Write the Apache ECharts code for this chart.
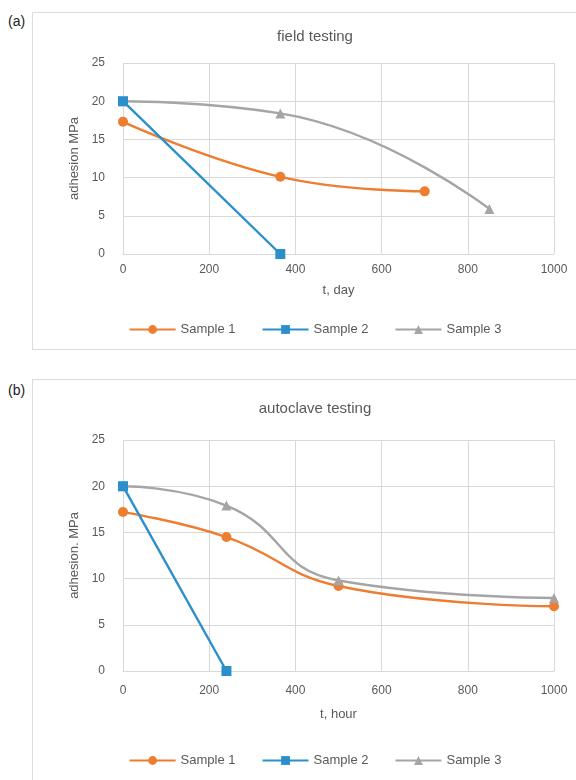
<!DOCTYPE html>
<html>
<head>
<meta charset="utf-8">
<script src="https://cdn.jsdelivr.net/npm/echarts@6/dist/echarts.min.js"></script>
<style>
  html, body { margin: 0; padding: 0; width: 576px; height: 780px; overflow: hidden; background: #fff; }
  .frame { position: absolute; border: 1.5px solid #dcdcdc; box-sizing: border-box; }
  .lbl { position: absolute; font-family: "Liberation Sans", Arial, sans-serif; font-size: 14px; color: #222; }
</style>
</head>
<body>
<div class="lbl" style="left:8px; top:13px;">(a)</div>
<div class="lbl" style="left:8px; top:382px;">(b)</div>
<div id="chartA" class="frame" style="left:32px; top:12px; width:566px; height:338px;"></div>
<div id="chartB" class="frame" style="left:32px; top:379px; width:566px; height:420px;"></div>
<script>
// ---- Data ----
const seriesNames = ['Sample 1', 'Sample 2', 'Sample 3'];
const xTicksA = [0, 200, 400, 600, 800, 1000];
const yTicks = [0, 5, 10, 15, 20, 25];

// (a) field testing, t in days
const fieldS1x = [0, 365, 700];
const fieldS1y = [17.3, 10.1, 8.2];
const fieldS2x = [0, 365];
const fieldS2y = [20.0, 0.0];
const fieldS3x = [0, 365, 850];
const fieldS3y = [20.0, 18.4, 5.9];

// (b) autoclave testing, t in hours
const autoS1x = [0, 240, 500, 1000];
const autoS1y = [17.2, 14.5, 9.2, 7.0];
const autoS2x = [0, 240];
const autoS2y = [20.0, 0.0];
const autoS3x = [0, 240, 500, 1000];
const autoS3y = [20.0, 17.9, 9.8, 7.9];

const colors = ['#ED7D31', '#2B8FCC', '#A5A5A5'];
const symbols = ['circle', 'rect', 'triangle'];
const symbolSizes = [10, 10, 10];
const smoothFlags = [0.45, false, 0.5];
const fontFam = '"Liberation Sans", Arial, sans-serif';
const txt = '#595959';

function zip(xs, ys) { return xs.map((x, i) => [x, ys[i]]); }

function makeOption(cfg) {
  const data = cfg.data;
  return {
    animation: false,
    title: {
      text: cfg.title, left: 'center', top: cfg.titleTop,
      textStyle: { fontFamily: fontFam, fontSize: 15, fontWeight: 'normal', color: txt }
    },
    legend: {
      bottom: cfg.legendBottom, left: 'center',
      data: seriesNames,
      itemWidth: 46, itemHeight: 11, itemGap: 26,
      textStyle: { fontFamily: fontFam, fontSize: 13, color: txt }
    },
    grid: { left: 90, top: cfg.gridTop, width: 431, height: cfg.gridHeight },
    xAxis: {
      type: 'value', min: xTicksA[0], max: xTicksA[xTicksA.length - 1], interval: 200,
      name: cfg.xName, nameLocation: 'middle', nameGap: cfg.xNameGap,
      nameTextStyle: { fontFamily: fontFam, fontSize: 13, color: txt },
      axisLine: { show: true, lineStyle: { color: '#d9d9d9' } },
      axisTick: { show: false },
      axisLabel: { fontFamily: fontFam, fontSize: 12, color: txt, margin: cfg.xLabelMargin,
                   formatter: v => String(v) },
      splitLine: { show: true, lineStyle: { color: '#d9d9d9', width: 1 } }
    },
    yAxis: {
      type: 'value', min: yTicks[0], max: yTicks[yTicks.length - 1], interval: 5,
      name: cfg.yName, nameLocation: 'middle', nameGap: 42, nameRotate: 90,
      nameTextStyle: { fontFamily: fontFam, fontSize: 13, color: txt },
      axisLine: { show: false },
      axisTick: { show: false },
      axisLabel: { fontFamily: fontFam, fontSize: 12, color: txt, margin: 18 },
      splitLine: { show: true, lineStyle: { color: '#d9d9d9', width: 1 } }
    },
    series: seriesNames.map((n, i) => ({
      name: n, type: 'line', data: data[i],
      smooth: smoothFlags[i],
      symbol: symbols[i], symbolSize: symbolSizes[i],
      showAllSymbol: true,
      z: i === 1 ? 3 : 2,
      lineStyle: { color: colors[i], width: 2.4 },
      itemStyle: { color: colors[i], borderWidth: 0 }
    }))
  };
}

const chartA = echarts.init(document.getElementById('chartA'), null, { renderer: 'canvas' });
chartA.setOption(makeOption({
  title: 'field testing', titleTop: 11,
  gridTop: 50, gridHeight: 191,
  xName: 't, day', xNameGap: 30, xLabelMargin: 10,
  yName: 'adhesion MPa',
  legendBottom: 8,
  data: [zip(fieldS1x, fieldS1y), zip(fieldS2x, fieldS2y), zip(fieldS3x, fieldS3y)]
}));

const chartB = echarts.init(document.getElementById('chartB'), null, { renderer: 'canvas' });
chartB.setOption(makeOption({
  title: 'autoclave testing', titleTop: 16,
  gridTop: 60, gridHeight: 231,
  xName: 't, hour', xNameGap: 37, xLabelMargin: 14,
  yName: 'adhesion. MPa',
  legendBottom: 26,
  data: [zip(autoS1x, autoS1y), zip(autoS2x, autoS2y), zip(autoS3x, autoS3y)]
}));
</script>
</body>
</html>
